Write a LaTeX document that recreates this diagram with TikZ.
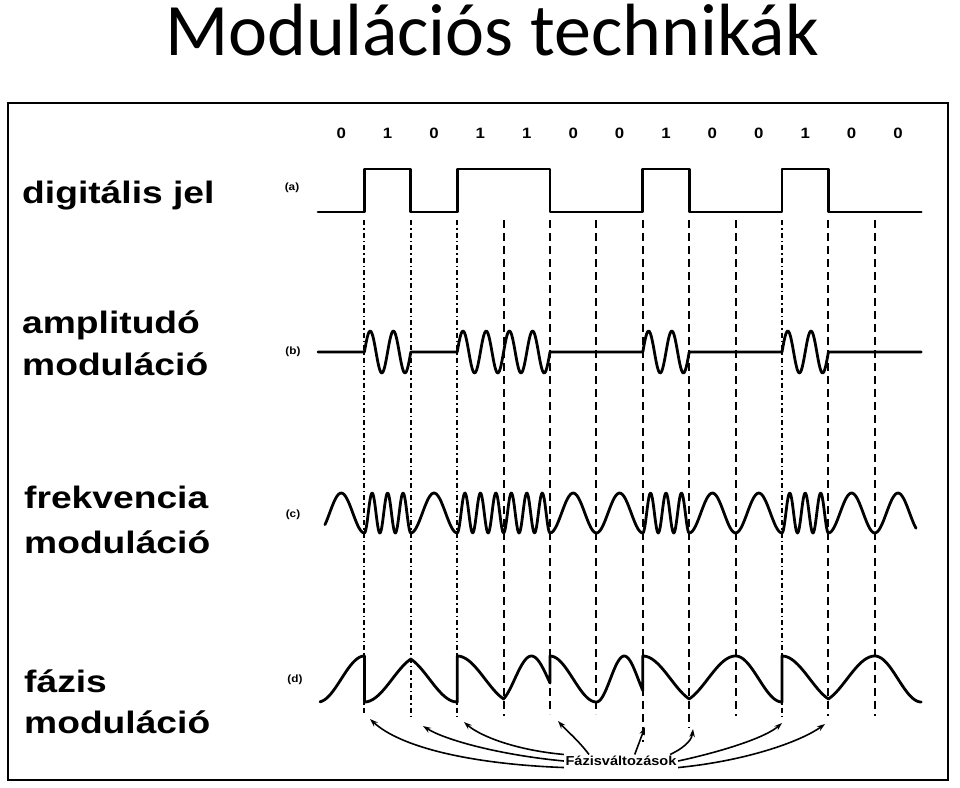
\documentclass[tikz,border=0pt]{standalone}
\usepackage{fontspec}
\setmainfont{Liberation Sans}
\newfontfamily\titlefont{Carlito}
\newfontfamily\labfont[FakeStretch=1.2]{Liberation Sans}
\newfontfamily\smallfont[FakeStretch=1.12]{Liberation Sans}
\usetikzlibrary{arrows.meta,calc}
\begin{document}
\begin{tikzpicture}[x=1pt,y=-1pt,
  rowlab/.style={font=\labfont\bfseries\fontsize{31}{37}\selectfont, anchor=base west, inner sep=0pt},
  tagl/.style={font=\smallfont\bfseries\fontsize{10.5}{12}\selectfont, inner sep=0pt},
  bitl/.style={font=\smallfont\bfseries\fontsize{15}{18}\selectfont, inner sep=0pt},
  sigline/.style={line width=2.8pt, line join=round, line cap=round},
  vdash/.style={line width=1.9pt, dash pattern=on 8pt off 5pt},
  vdot/.style={line width=1.9pt, dash pattern=on 5pt off 3pt on 1.5pt off 3pt},
  arr/.style={line width=1.6pt, -{Stealth[length=8pt,width=5.5pt]}}]
\useasboundingbox (0,0) rectangle (960,787);
\fill[white] (0,0) rectangle (960,787);

% title
\node[font=\titlefont\fontsize{74}{80}\selectfont, anchor=base, inner sep=0pt] (title) at (492,55) {Modulációs technikák};

% frame
\draw[line width=2.8pt] (8,103) rectangle (948,780);

% row labels
\node[rowlab] (la) at (22,203) {digitális jel};
\node[rowlab] (lb1) at (22,333) {amplitudó};
\node[rowlab] (lb2) at (22,375) {moduláció};
\node[rowlab] (lc1) at (24,508) {frekvencia};
\node[rowlab] (lc2) at (24,553) {moduláció};
\node[rowlab] (ld1) at (24,692) {fázis};
\node[rowlab] (ld2) at (24,733) {moduláció};

\node[tagl] (ta) at (292,188) {(a)};
\node[tagl] (tb) at (293,352) {(b)};
\node[tagl] (tc) at (293,515) {(c)};
\node[tagl] (td) at (295,680) {(d)};

% bits
\foreach \b [count=\i from 0] in {0,1,0,1,1,0,0,1,0,0,1,0,0}
  \node[bitl] (bit\i) at ({341.2+46.4*\i},133) {\b};

% (a) digital signal
\draw[sigline] (318,212) -- (364.4,212) -- (364.4,169) -- (410.8,169) -- (410.8,212)
  -- (457.2,212) -- (457.2,169) -- (550,169) -- (550,212) -- (642.8,212) -- (642.8,169)
  -- (689.2,169) -- (689.2,212) -- (782,212) -- (782,169) -- (828.4,169) -- (828.4,212)
  -- (921.2,212);

% (b) ASK
\draw[sigline] (318,352) -- (364.4,352)
  -- plot[domain=364.4:410.8,samples=50] (\x,{352-21*sin(15.5172*(\x-364.4))})
  -- (457.2,352)
  -- plot[domain=457.2:550,samples=100] (\x,{352-21*sin(15.5172*(\x-457.2))})
  -- (642.8,352)
  -- plot[domain=642.8:689.2,samples=50] (\x,{352-21*sin(15.5172*(\x-642.8))})
  -- (782,352)
  -- plot[domain=782:828.4,samples=50] (\x,{352-21*sin(15.5172*(\x-782))})
  -- (921.2,352);

% (c) FM
\draw[sigline]
  plot[domain=325:364.4,samples=30] (\x,{513+20*cos(7.7586*(\x-318))})
  -- plot[domain=364.4:410.8,samples=70] (\x,{513+20*cos(23.2759*(\x-364.4))})
  -- plot[domain=410.8:457.2,samples=30] (\x,{513+20*cos(7.7586*(\x-410.8))})
  -- plot[domain=457.2:550,samples=130] (\x,{513+20*cos(23.2759*(\x-457.2))})
  -- plot[domain=550:642.8,samples=60] (\x,{513+20*cos(7.7586*(\x-550))})
  -- plot[domain=642.8:689.2,samples=70] (\x,{513+20*cos(23.2759*(\x-642.8))})
  -- plot[domain=689.2:782,samples=60] (\x,{513+20*cos(7.7586*(\x-689.2))})
  -- plot[domain=782:828.4,samples=70] (\x,{513+20*cos(23.2759*(\x-782))})
  -- plot[domain=828.4:916,samples=60] (\x,{513+20*cos(7.7586*(\x-828.4))});

% (d) PSK
\draw[sigline]
  plot[domain=320:364.4,samples=30] (\x,{679+23*cos(3.8793*(\x-318))})
  -- plot[domain=364.4:410.8,samples=30] (\x,{679+23*cos(3.2328*(\x-364.4))})
  -- plot[domain=410.8:457.2,samples=30] (\x,{679+23*cos(210+3.2328*(\x-410.8))})
  -- plot[domain=457.2:503.6,samples=30] (\x,{679+23*cos(180+3.2328*(\x-457.2))})
  -- plot[domain=503.6:550,samples=40] (\x,{679+23*cos(30+5.3879*(\x-503.6))})
  -- plot[domain=550:596.4,samples=30] (\x,{679+23*cos(180+3.8793*(\x-550))})
  -- plot[domain=596.4:642.8,samples=40] (\x,{679+23*cos(6.4655*(\x-596.4))})
  -- plot[domain=642.8:689.2,samples=30] (\x,{679+23*cos(180+3.2328*(\x-642.8))})
  -- plot[domain=689.2:735.6,samples=30] (\x,{679+23*cos(30+3.2328*(\x-689.2))})
  -- plot[domain=735.6:782,samples=30] (\x,{679+23*cos(180+3.8793*(\x-735.6))})
  -- plot[domain=782:828.4,samples=30] (\x,{679+23*cos(180+3.2328*(\x-782))})
  -- plot[domain=828.4:874.8,samples=30] (\x,{679+23*cos(30+3.2328*(\x-828.4))})
  -- plot[domain=874.8:921.2,samples=30] (\x,{679+23*cos(180+3.8793*(\x-874.8))});

% vertical boundary lines
\foreach \i/\xx/\ye in {1/364.4/714, 2/410.8/716, 3/457.2/716, 4/503.6/716,
  5/550/714, 6/596.4/714, 7/642.8/742, 8/689.2/728, 9/735.6/716, 10/782/718,
  11/828.4/716, 12/874.8/716} {
  \coordinate (t\i) at (\xx,220);
  \coordinate (e\i) at (\xx,\ye);
}
\foreach \i in {1,2,3,10} \draw[vdot] (t\i) -- (e\i);
\foreach \i in {4,5,6,7,8,9,11,12} \draw[vdash] (t\i) -- (e\i);

% phase change label and arrows
\node[font=\smallfont\bfseries\fontsize{13}{15}\selectfont, inner sep=1.5pt] (fv) at (621,761) {Fázisváltozások};
\coordinate (a1) at (370,719);
\coordinate (a2) at (423,726);
\coordinate (a3) at (464,722);
\coordinate (a4) at (558,721);
\coordinate (a5) at (645,727);
\coordinate (a6) at (693,729);
\coordinate (a7) at (782,723);
\coordinate (a8) at (825,724);
\draw[arr] (fv.south west) .. controls (470,764) and (400,747) .. (a1);
\draw[arr] (fv.west) .. controls (500,755) and (445,740) .. (a2);
\draw[arr] (fv.north west) .. controls (515,750) and (480,736) .. (a3);
\draw[arr] ($(fv.north west)!0.22!(fv.north east)$) .. controls (578,740) and (566,730) .. (a4);
\draw[arr] ($(fv.north west)!0.62!(fv.north east)$) -- (a5);
\draw[arr] ($(fv.north west)!0.93!(fv.north east)$) .. controls (688,746) and (692,738) .. (a6);
\draw[arr] (fv.east) .. controls (720,752) and (765,738) .. (a7);
\draw[arr] (fv.south east) .. controls (745,761) and (800,742) .. (a8);
\end{tikzpicture}
\end{document}
